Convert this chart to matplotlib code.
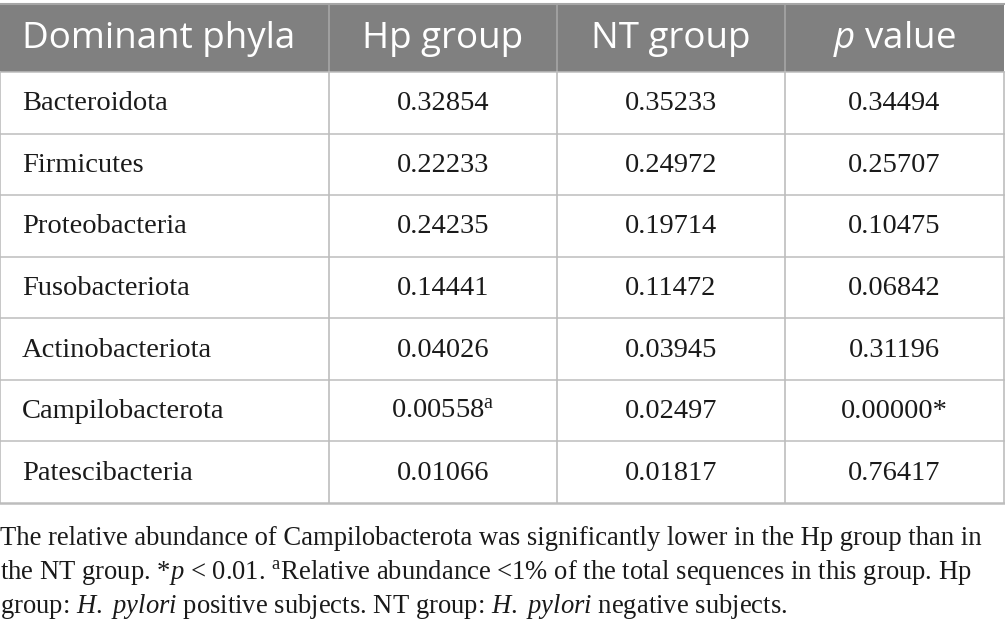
import matplotlib
matplotlib.use("Agg")
import matplotlib.pyplot as plt

plt.rcParams['mathtext.fontset'] = 'custom'
plt.rcParams['mathtext.rm'] = 'Liberation Serif'
plt.rcParams['mathtext.it'] = 'Liberation Serif:italic'
plt.rcParams['mathtext.sf'] = 'Open Sans:italic'

# table content
headers = ["Dominant phyla", "Hp group", "NT group", r"$\mathsf{p}$ value"]
phyla = ["Bacteroidota", "Firmicutes", "Proteobacteria", "Fusobacteriota",
         "Actinobacteriota", "Campilobacterota", "Patescibacteria"]
hp_group = ["0.32854", "0.22233", "0.24235", "0.14441", "0.04026",
            r"0.00558$^{\mathrm{a}}$", "0.01066"]
nt_group = ["0.35233", "0.24972", "0.19714", "0.11472", "0.03945",
            "0.02497", "0.01817"]
p_value = ["0.34494", "0.25707", "0.10475", "0.06842", "0.31196",
           "0.00000*", "0.76417"]
footnote = [
    "The relative abundance of Campilobacterota was significantly lower in the Hp group than in",
    r"the NT group. *$p$ < 0.01. $^{\mathrm{a}}$Relative abundance <1% of the total sequences in this group. Hp",
    r"group: $H.$ $pylori$ positive subjects. NT group: $H.$ $pylori$ negative subjects.",
]

W, H = 1005, 630
fig = plt.figure(figsize=(W / 100, H / 100), dpi=100)
ax = fig.add_axes([0, 0, 1, 1])
ax.set_xlim(0, W)
ax.set_ylim(H, 0)
ax.axis('off')

col_x = [0, 329, 557, 785, 1004]
head_top, head_bot, table_bot = 4, 72, 503
n = len(phyla)
row_h = (table_bot - head_bot) / n
line_c = '#bdbdbd'
head_c = '#808080'

# header band
ax.add_patch(plt.Rectangle((0, head_top), col_x[-1], head_bot - head_top,
                           facecolor=head_c, edgecolor='none'))
ax.plot([0, col_x[-1]], [head_top, head_top], color='#a6a6a6', lw=1.5)
for xc in col_x[1:-1]:
    ax.plot([xc, xc], [head_top, head_bot], color='#a6a6a6', lw=1.2)

# body grid
for i in range(n + 1):
    y = head_bot + i * row_h
    ax.plot([0, col_x[-1]], [y, y], color=line_c, lw=1.8 if i == n else 1.1)
for xc in col_x:
    ax.plot([xc, xc], [head_bot, table_bot], color=line_c, lw=1.2)

# header text
hy = (head_top + head_bot) / 2 + 1
ax.text(22, hy, headers[0], color='white', fontsize=26.5, family='Open Sans',
        va='center', ha='left')
for j in range(1, 4):
    ax.text((col_x[j] + col_x[j + 1]) / 2, hy, headers[j], color='white',
            fontsize=26.5, family='Open Sans', va='center', ha='center')

# body text
for i in range(n):
    y = head_bot + (i + 0.5) * row_h + 1
    ax.text(22, y, phyla[i], fontsize=20.5, family='Liberation Serif',
            va='center', ha='left', color='#1a1a1a')
    for j, col in enumerate([hp_group, nt_group, p_value], start=1):
        ax.text((col_x[j] + col_x[j + 1]) / 2, y, col[i], fontsize=20.5,
                family='Liberation Serif', va='center', ha='center', color='#1a1a1a')

# footnote
for k, line in enumerate(footnote):
    ax.text(0, 545 + k * 34, line, fontsize=19.2, family='Liberation Serif',
            va='baseline', ha='left', color='#1a1a1a')

fig.savefig("out.png", dpi=100)
